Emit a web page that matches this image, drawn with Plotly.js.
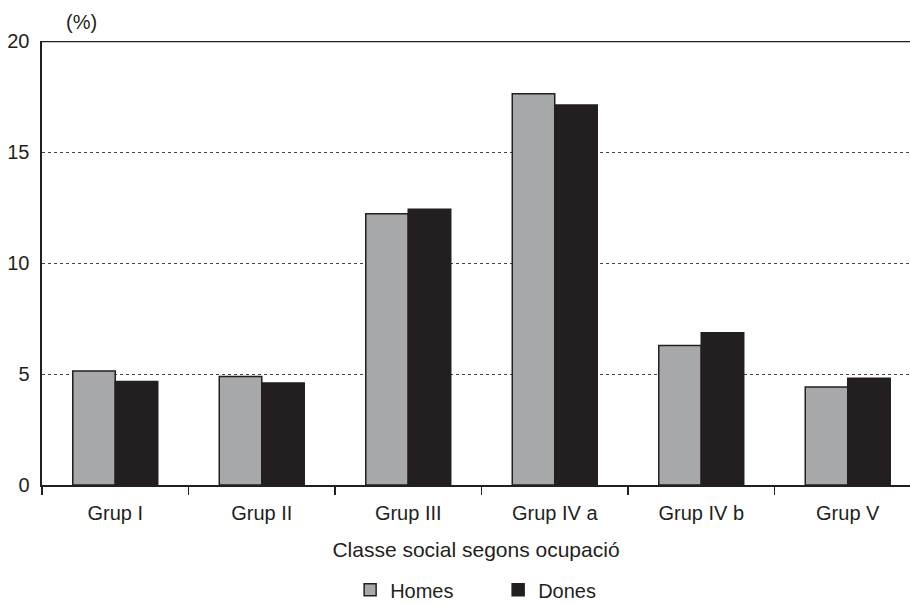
<!DOCTYPE html>
<html>
<head>
<meta charset="utf-8">
<script src="https://cdn.plot.ly/plotly-3.0.1.min.js"></script>
<style>
  html, body { margin: 0; padding: 0; background: #ffffff; }
  #chart { width: 910px; height: 605px; }
</style>
</head>
<body>
<div id="chart"></div>
<script>
const categories = ["Grup I", "Grup II", "Grup III", "Grup IV a", "Grup IV b", "Grup V"];
const homes = [5.14, 4.89, 12.22, 17.62, 6.28, 4.41];
const dones = [4.66, 4.60, 12.42, 17.12, 6.86, 4.81];
const seriesNames = ["Homes", "Dones"];
const yTicks = [0, 5, 10, 15, 20];
const yUnitLabel = "(%)";
const xTitle = "Classe social segons ocupació";

const FONT = "Liberation Sans, Arial, Helvetica, sans-serif";
const INK = "#231f20";

const traces = [
  {
    type: "bar", name: seriesNames[0], x: categories, y: homes,
    marker: { color: "#a7a8aa", line: { color: INK, width: 1.5 } },
    hoverinfo: "x+y"
  },
  {
    type: "bar", name: seriesNames[1], x: categories, y: dones,
    marker: { color: INK, line: { color: INK, width: 1.5 } },
    hoverinfo: "x+y"
  }
];

const layout = {
  width: 910, height: 605,
  margin: { l: 42, r: 0, t: 41, b: 120, autoexpand: false },
  paper_bgcolor: "#ffffff", plot_bgcolor: "#ffffff",
  font: { family: FONT, size: 20, color: INK },
  barmode: "group",
  bargap: 0.42,
  bargroupgap: 0,
  showlegend: true,
  legend: {
    orientation: "h",
    x: 0.355, xanchor: "left",
    y: -0.280, yanchor: "bottom",
    font: { family: FONT, size: 20, color: INK },
    entrywidth: 103, entrywidthmode: "pixels",
    bgcolor: "rgba(0,0,0,0)"
  },
  xaxis: {
    type: "category",
    range: [-0.5, 5.425],
    showline: true, linecolor: INK, linewidth: 1.5,
    ticks: "outside", tickson: "boundaries", ticklen: 8, tickwidth: 1.2, tickcolor: INK,
    ticklabelstandoff: 9,
    tickfont: { family: FONT, size: 20, color: INK },
    showgrid: false, zeroline: false,
    title: { text: xTitle, font: { family: FONT, size: 21, color: INK }, standoff: 20 }
  },
  yaxis: {
    range: [0, 20],
    tickvals: yTicks,
    ticktext: yTicks.map(String),
    ticks: "",
    ticklabelstandoff: 6,
    tickfont: { family: FONT, size: 20, color: INK },
    showline: true, linecolor: INK, linewidth: 2.5,
    showgrid: true, gridcolor: "#444444", gridwidth: 1, griddash: "dot",
    zeroline: false
  },
  shapes: [
    { type: "line", xref: "paper", yref: "y", x0: 0, x1: 1, y0: 20, y1: 20,
      line: { color: INK, width: 2.5 } }
  ],
  annotations: [
    { text: yUnitLabel, xref: "paper", yref: "paper", x: 0.045, y: 1.043,
      xanchor: "center", yanchor: "middle", showarrow: false,
      font: { family: FONT, size: 20, color: INK } }
  ]
};

Plotly.newPlot("chart", traces, layout, { displayModeBar: false, staticPlot: true });
</script>
</body>
</html>
